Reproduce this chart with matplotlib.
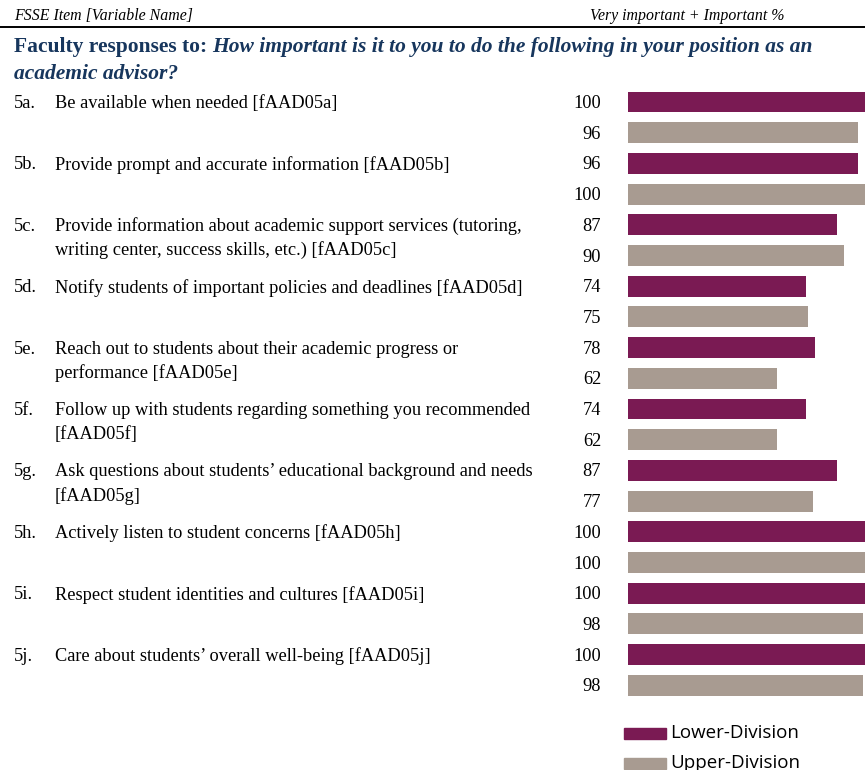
import numpy as np
import matplotlib.pyplot as plt
from matplotlib.transforms import blended_transform_factory
from matplotlib.patches import Rectangle
from matplotlib.lines import Line2D

# data
codes = ['5a.', '5b.', '5c.', '5d.', '5e.', '5f.', '5g.', '5h.', '5i.', '5j.']
items = [
    ['Be available when needed [fAAD05a]'],
    ['Provide prompt and accurate information [fAAD05b]'],
    ['Provide information about academic support services (tutoring,',
     'writing center, success skills, etc.) [fAAD05c]'],
    ['Notify students of important policies and deadlines [fAAD05d]'],
    ['Reach out to students about their academic progress or',
     'performance [fAAD05e]'],
    ['Follow up with students regarding something you recommended',
     '[fAAD05f]'],
    ['Ask questions about students\u2019 educational background and needs',
     '[fAAD05g]'],
    ['Actively listen to student concerns [fAAD05h]'],
    ['Respect student identities and cultures [fAAD05i]'],
    ['Care about students\u2019 overall well-being [fAAD05j]'],
]
lower = [100, 96, 87, 74, 78, 74, 87, 100, 100, 100]
upper = [96, 100, 90, 75, 62, 62, 77, 100, 98, 98]
series = ['Lower-Division', 'Upper-Division']
colors = ['#7A1A53', '#A89B91']
navy = '#17365D'
serif = 'Liberation Serif'
fs = 13.2

W, H = 865, 770
fig = plt.figure(figsize=(W / 100, H / 100), dpi=100)

# bar axes: 20 rows, 30.7 px apart, first row centre at y=102
row_h = 30.7
top = 102 - row_h / 2
ax = fig.add_axes([628 / W, 1 - (top + 20 * row_h) / H, (W - 628) / W, 20 * row_h / H])
ax.set_xlim(0, (W - 628) / 2.4)
ax.set_ylim(19.5, -0.5)
ax.axis('off')

ypos_low = np.arange(len(codes)) * 2
ypos_up = ypos_low + 1
ax.barh(ypos_low, lower, height=0.68, color=colors[0])
ax.barh(ypos_up, upper, height=0.68, color=colors[1])

tr = blended_transform_factory(fig.transFigure, ax.transData)
for i in range(len(codes)):
    y = ypos_low[i] + 0.05
    ax.text(14 / W, y, codes[i], transform=tr, family=serif, fontsize=fs,
            va='center', ha='left')
    for k, line in enumerate(items[i]):
        ax.text(55 / W, y + k * 0.78, line, transform=tr, family=serif,
                fontsize=fs, va='center', ha='left')
    ax.text(601 / W, y, str(lower[i]), transform=tr, family=serif,
            fontsize=fs, va='center', ha='right')
    ax.text(601 / W, ypos_up[i] + 0.05, str(upper[i]), transform=tr, family=serif,
            fontsize=fs, va='center', ha='right')

# header row
fig.text(14 / W, 1 - 16 / H, 'FSSE Item [Variable Name]', family=serif,
         style='italic', fontsize=11.4, va='center')
fig.text(590 / W, 1 - 16 / H, 'Very important + Important %', family=serif,
         style='italic', fontsize=11.4, va='center')
fig.add_artist(Line2D([0, 1], [1 - 26.5 / H] * 2, color='black', lw=1.4))

# title: bold lead-in followed by bold italic question
tsz = 15.5
t1 = fig.text(14 / W, 1 - 47 / H, 'Faculty responses to: ', family=serif,
              weight='bold', fontsize=tsz, color=navy, va='center')
r = fig.canvas.get_renderer()
bb = t1.get_window_extent(renderer=r)
fig.text(bb.x1 / W, 1 - 47 / H,
         'How important is it to you to do the following in your position as an',
         family=serif, weight='bold', style='italic', fontsize=tsz, color=navy,
         va='center')
fig.text(14 / W, 1 - 74 / H, 'academic advisor?', family=serif, weight='bold',
         style='italic', fontsize=tsz, color=navy, va='center')

# legend
for j, (name, c) in enumerate(zip(series, colors)):
    yc = 733 + j * 30
    fig.add_artist(Rectangle((624 / W, 1 - (yc + 5.5) / H), 42 / W, 11 / H,
                             transform=fig.transFigure, color=c))
    fig.text(670 / W, 1 - (yc - 0.5) / H, name, family='Open Sans', fontsize=13.5,
             va='center', ha='left')

fig.savefig('out.png', dpi=100)
